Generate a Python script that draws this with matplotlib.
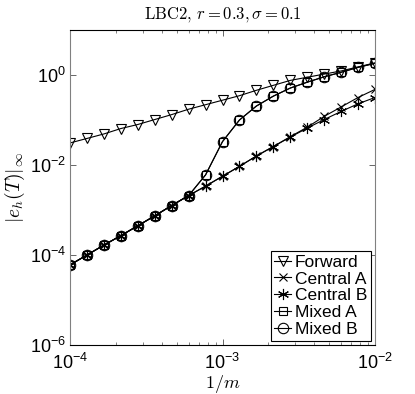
import numpy as np
import matplotlib.pyplot as plt
from matplotlib import ticker

plt.rcParams["font.family"] = ["Liberation Sans", "DejaVu Sans"]
plt.rcParams["mathtext.fontset"] = "custom"
plt.rcParams["mathtext.rm"] = "Liberation Sans"
plt.rcParams["mathtext.it"] = "Liberation Sans:italic"
plt.rcParams["mathtext.bf"] = "Liberation Sans:bold"

# 1/m values: 19 points, log-spaced between 1e-4 and 1e-2
inv_m = [1.0e-4, 1.292e-4, 1.668e-4, 2.154e-4, 2.783e-4, 3.594e-4, 4.642e-4,
         5.995e-4, 7.743e-4, 1.0e-3, 1.292e-3, 1.668e-3, 2.154e-3, 2.783e-3,
         3.594e-3, 4.642e-3, 5.995e-3, 7.743e-3, 1.0e-2]

# log10 of the error
log_forward = [-1.51, -1.41, -1.31, -1.19, -1.10, -0.99, -0.88, -0.76, -0.66, -0.56,
               -0.46, -0.34, -0.23, -0.12, -0.05, 0.02, 0.09, 0.18, 0.27]
log_central_a = [-4.22, -4.00, -3.78, -3.57, -3.35, -3.13, -2.90, -2.68, -2.47, -2.25,
                 -2.03, -1.80, -1.59, -1.37, -1.16, -0.92, -0.71, -0.50, -0.32]
log_central_b = [-4.22, -4.00, -3.78, -3.57, -3.35, -3.13, -2.90, -2.68, -2.47, -2.25,
                 -2.03, -1.80, -1.59, -1.38, -1.18, -0.99, -0.81, -0.64, -0.50]
log_mixed_a = [-4.22, -4.00, -3.78, -3.57, -3.35, -3.13, -2.90, -2.68, -2.22, -1.48,
               -1.00, -0.69, -0.47, -0.29, -0.16, -0.04, 0.06, 0.17, 0.26]
log_mixed_b = [-4.22, -4.00, -3.78, -3.57, -3.35, -3.13, -2.90, -2.68, -2.22, -1.48,
               -1.00, -0.69, -0.47, -0.29, -0.16, -0.04, 0.06, 0.17, 0.26]

series = [
    ("Forward", log_forward, "v", 7.5),
    ("Central A", log_central_a, "x", 6),
    ("Central B", log_central_b, (6, 2, 0), 8),
    ("Mixed A", log_mixed_a, "s", 6),
    ("Mixed B", log_mixed_b, "o", 7.5),
]

fig = plt.figure(figsize=(4.15, 3.94), dpi=100)
ax = fig.add_axes([70 / 415, 49 / 394, 305 / 415, 315 / 394])

for name, vals, mk, ms in series:
    ax.loglog(inv_m, 10.0 ** np.array(vals), color="k", lw=0.8, marker=mk,
              markersize=ms, markerfacecolor="none", markeredgecolor="k",
              markeredgewidth=0.8, label=name)

ax.set_xlim(1e-4, 1e-2)
ax.set_ylim(1e-6, 1e1)
ax.xaxis.set_major_locator(ticker.FixedLocator([1e-4, 1e-3, 1e-2]))
ax.yaxis.set_major_locator(ticker.FixedLocator([1e-6, 1e-4, 1e-2, 1e0]))
ax.yaxis.set_minor_locator(ticker.NullLocator())
ax.xaxis.set_minor_locator(ticker.LogLocator(base=10, subs=np.arange(2, 10)))
ax.xaxis.set_minor_formatter(ticker.NullFormatter())
fmt = ticker.FuncFormatter(lambda v, p: r"$10^{%d}$" % round(np.log10(v)))
ax.xaxis.set_major_formatter(fmt)
ax.yaxis.set_major_formatter(fmt)
ax.tick_params(which="both", direction="in", top=True, right=True, labelsize=13,
               color="0.3")
ax.tick_params(which="major", length=4, width=0.6)
ax.tick_params(which="minor", length=2, width=0.5)
ax.tick_params(axis="x", pad=6)
ax.tick_params(axis="y", pad=3)
for side in ["left", "right"]:
    ax.spines[side].set_color("0.5")
for side in ["top", "bottom"]:
    ax.spines[side].set_color("k")
for s in ax.spines.values():
    s.set_linewidth(0.8)

ax.set_title(r"$\mathrm{LBC2},\, r = 0.3, \sigma = 0.1$", fontsize=12,
             math_fontfamily="cm", pad=8)
ax.set_xlabel(r"$1/m$", fontsize=13, math_fontfamily="cm", labelpad=0)
ax.set_ylabel(r"$|e_h(T)|_\infty$", fontsize=14, math_fontfamily="cm", labelpad=2)

leg = ax.legend(loc="lower right", fontsize=12.5, handlelength=1.0, handletextpad=0.2,
                borderpad=0.2, labelspacing=0.1, borderaxespad=0.25,
                fancybox=False, framealpha=1, edgecolor="k")
leg.get_frame().set_linewidth(0.8)

fig.savefig("out.png", dpi=100)
